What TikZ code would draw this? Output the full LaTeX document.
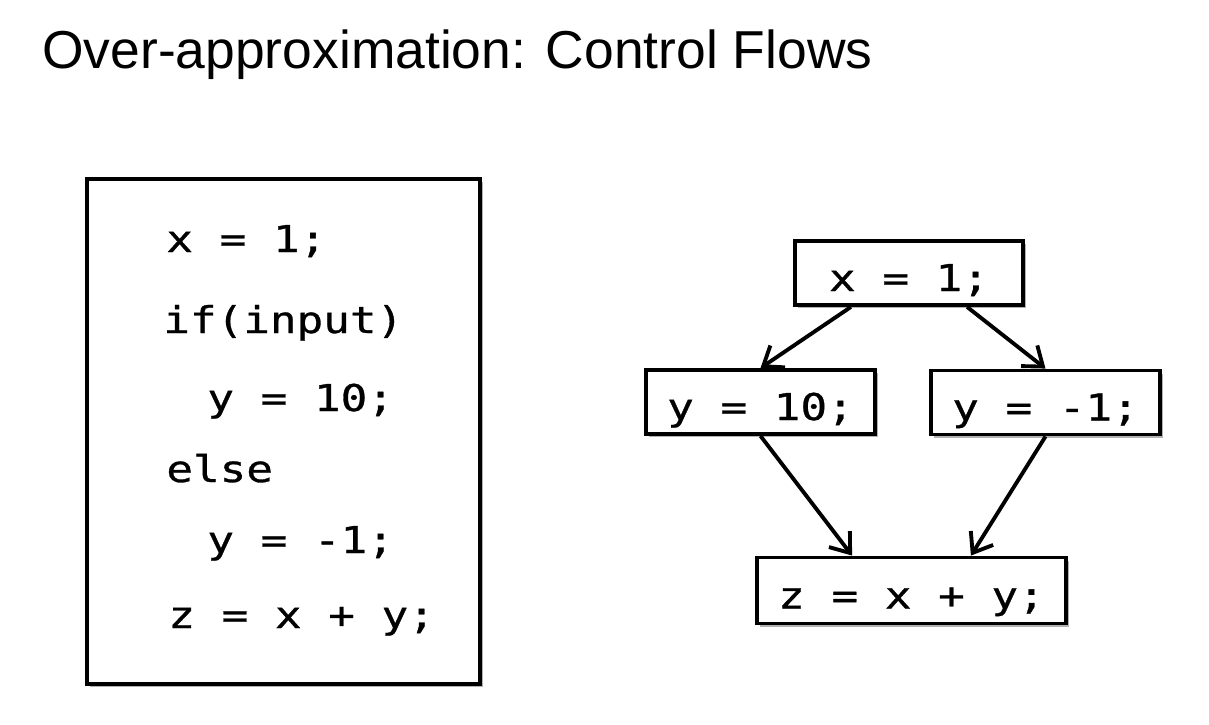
\documentclass[tikz,border=0pt]{standalone}
\usepackage{fontspec}
\setmainfont{Liberation Sans}
\newfontfamily\codefont{DejaVu Sans Mono}[FakeStretch=1.2,FakeBold=0.8]
\usetikzlibrary{calc,shadows,arrows.meta}

\begin{document}
\begin{tikzpicture}[x=0.02cm,y=-0.02cm]

  \tikzstyle{stmt}=[draw,line width=2.2pt,fill=white,inner sep=0pt,font=\codefont\fontsize{21pt}{24pt}\selectfont,text height=0.72cm,text depth=0cm,drop shadow={shadow xshift=1.8pt,shadow yshift=-1.8pt,fill=black!60,opacity=0.5}]
  \tikzstyle{line}=[anchor=base west,inner sep=0pt,font=\codefont\fontsize{21pt}{24pt}\selectfont]
  \tikzstyle{flow}=[line width=2.2pt,-{Straight Barb[length=10pt,width=15pt]}]

  % ====================
  % Parameters
  % ====================
  \def\stmtw{4.57cm}  % Width of the small boxes
  \def\stmth{1.28cm}  % Height of the boxes
  \def\joinw{6.18cm}  % Width of the join box
  \def\codew{7.86cm}  % Width of the code listing
  \def\codeh{10.1cm}  % Height of the code listing
  \def\indent{207}    % x of the indented lines
  % ====================

  \useasboundingbox (0,0) rectangle (1209,724);

  % Title
  \node (title) [anchor=base west,inner sep=0pt,font=\fontsize{30.4pt}{36pt}\selectfont] at (42,68) {Over-approximation: Control Flows};

  % ====================
  % Code listing
  % ====================
  \node (code) [draw,line width=2.2pt,fill=white,minimum width=\codew,minimum height=\codeh,drop shadow={shadow xshift=1.8pt,shadow yshift=-1.8pt,fill=black!60,opacity=0.5}] at (283.5,431.5) {};

  \node (l1) [line] at (166,252) {x = 1;};
  \node (l2) [line] at (163,333) {if(input)};
  \node (l3) [line] at (\indent,411) {y = 10;};
  \node (l4) [line] at (166,482) {else};
  \node (l5) [line] at (\indent,553) {y = -1;};
  \node (l6) [line] at (168,628) {z = x + y;};

  % ====================
  % Control flow graph
  % ====================
  \node (n1) [stmt,minimum width=\stmtw,minimum height=\stmth] at (909,273) {x = 1;};
  \node (n2) [stmt,minimum width=\stmtw,minimum height=\stmth] at (760.5,402) {y = 10;};
  \node (n3) [stmt,minimum width=\stmtw,minimum height=\stmth] at (1045.5,402.5) {y = -1;};
  \node (n4) [stmt,minimum width=\joinw,minimum height=1.32cm] at (911.5,590.5) {z = x + y;};

  % Branches
  \draw[flow] ($(n1.south west)!0.25!(n1.south east)$) -- (n2.north);
  \draw[flow] ($(n1.south west)!0.75!(n1.south east)$) -- (n3.north);

  % Join
  \draw[flow] (n2.south) -- ($(n4.north west)!0.31!(n4.north east)$);
  \draw[flow] (n3.south) -- ($(n4.north west)!0.69!(n4.north east)$);
\end{tikzpicture}
\end{document}
